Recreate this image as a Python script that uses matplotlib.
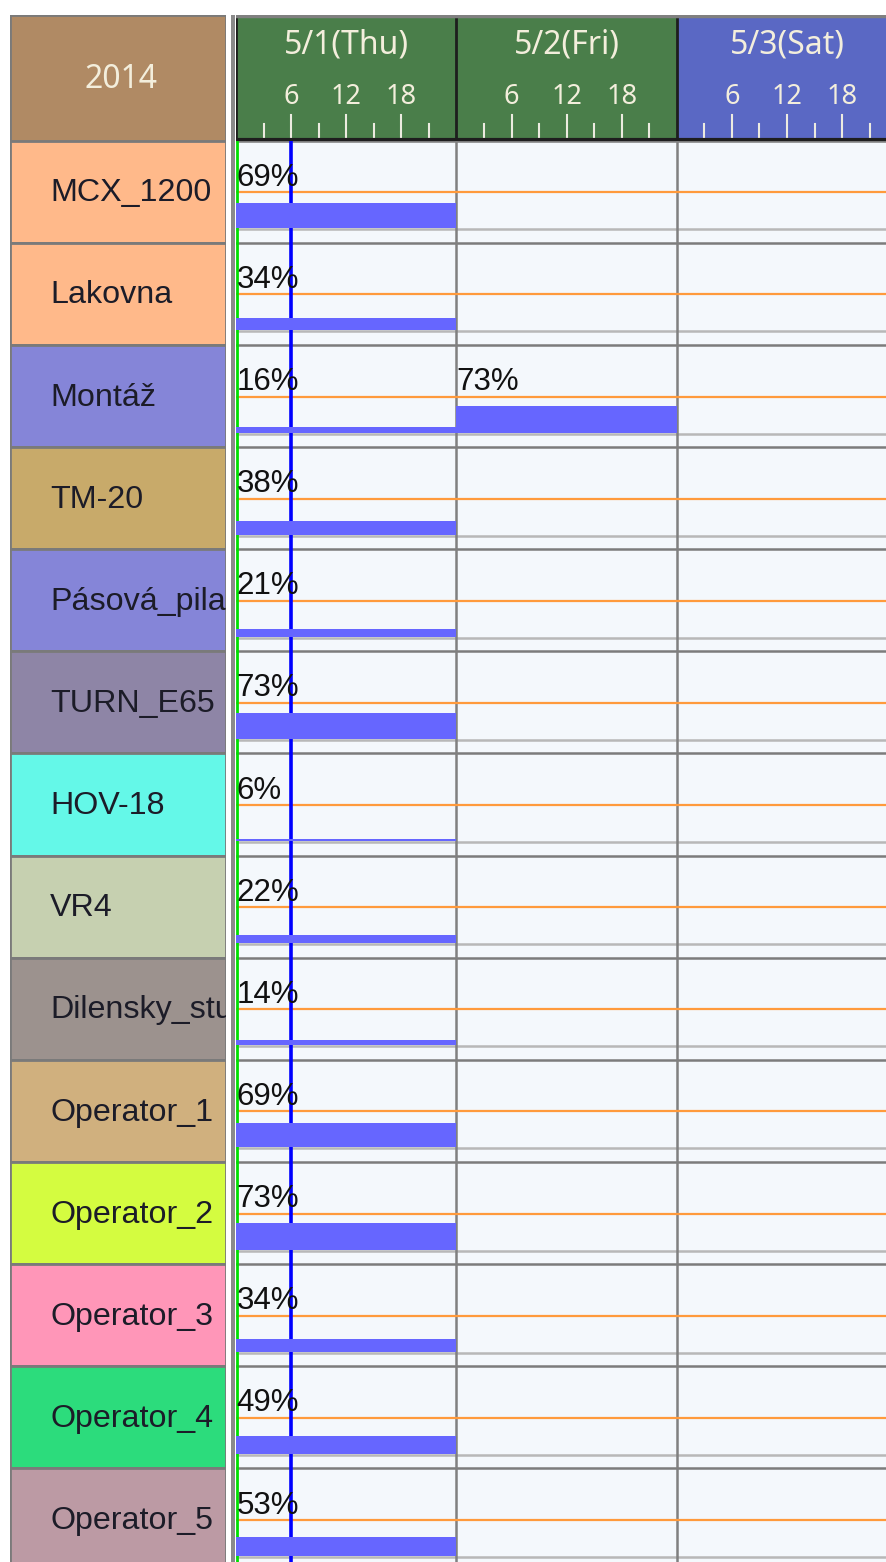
import matplotlib
matplotlib.use('Agg')
import matplotlib.pyplot as plt
from matplotlib.patches import Rectangle

# resources shown in the schedule, top to bottom
resources = ["MCX_1200", "Lakovna", "Montáž", "TM-20", "Pásová_pila", "TURN_E65",
             "HOV-18", "VR4", "Dilensky_stul", "Operator_1", "Operator_2",
             "Operator_3", "Operator_4", "Operator_5"]
resource_colors = ["#ffb98a", "#ffb98a", "#8585d8", "#c8aa6a", "#8585d8", "#8e85a6",
                   "#64f8e8", "#c6d0b0", "#9c928e", "#d0b07e", "#d4fc40",
                   "#ff96b8", "#2cdc7c", "#bc9aa4"]

# daily utilisation in percent (None = nothing planned)
util_thu = [69, 34, 16, 38, 21, 73, 6, 22, 14, 69, 73, 34, 49, 53]
util_fri = [None, None, 73, None, None, None, None, None, None, None, None, None, None, None]
util_sat = [None] * len(resources)

year = "2014"
day_labels = ["5/1(Thu)", "5/2(Fri)", "5/3(Sat)"]
day_colors = ["#4a7e4a", "#4a7e4a", "#5a68c4"]
hour_ticks = [6, 12, 18]
now_hour = 6

W, H = 886, 1562
ROW_PX = 102.13
DAY_PX = 220.4
BODY_TOP = 140.6
HEAD_TOP = 15
LEFT0, LEFT1 = 10, 225.5
CHART_X0 = 236

fig = plt.figure(figsize=(W / 100, H / 100), dpi=100)
fig.patch.set_facecolor('white')


def px_axes(x0, y0, x1, y1):
    ax = fig.add_axes([x0 / W, 1 - y1 / H, (x1 - x0) / W, (y1 - y0) / H])
    ax.set_axis_off()
    return ax


hours_visible = (W - CHART_X0) / DAY_PX * 24
rows_visible = (H - BODY_TOP) / ROW_PX

# splitter between the name column and the chart
fig.add_artist(Rectangle((231 / W, 0), 3.5 / W, 1 - HEAD_TOP / H,
                         transform=fig.transFigure, color="#8a8a8a", lw=0))

# corner cell with the year
ax_corner = px_axes(LEFT0, HEAD_TOP, LEFT1, BODY_TOP)
ax_corner.set_xlim(0, LEFT1 - LEFT0)
ax_corner.set_ylim(BODY_TOP - HEAD_TOP, 0)
ax_corner.add_patch(Rectangle((0, 0), LEFT1 - LEFT0, BODY_TOP - HEAD_TOP,
                              facecolor="#b08a64", edgecolor="#7a7a7a", lw=2))
ax_corner.text((LEFT1 - LEFT0) / 2 + 3, 64, year, ha='center', va='center',
               fontsize=23, family="Noto Sans", color="#f3eedc")

# resource name column
ax_names = px_axes(LEFT0, BODY_TOP, LEFT1, H)
ax_names.set_xlim(0, LEFT1 - LEFT0)
ax_names.set_ylim(rows_visible, 0)
for k, (name, col) in enumerate(zip(resources, resource_colors)):
    ax_names.add_patch(Rectangle((0, k), LEFT1 - LEFT0, 1, facecolor=col,
                                 edgecolor="#7a7a7a", lw=2))
    ax_names.text(40, k + 0.595, name, ha='left', va='baseline', fontsize=23.2,
                  family="Liberation Sans", color="#1c1c28", clip_on=True)

# day header
head_h = BODY_TOP - HEAD_TOP
ax_head = px_axes(CHART_X0, HEAD_TOP, W, BODY_TOP)
ax_head.set_xlim(0, hours_visible)
ax_head.set_ylim(head_h, 0)
for d, (lab, col) in enumerate(zip(day_labels, day_colors)):
    x0 = d * 24
    ax_head.add_patch(Rectangle((x0, 0), 24, head_h, facecolor=col, lw=0))
    ax_head.text(x0 + 12, 30, lab, ha='center', va='center', fontsize=23,
                 family="Noto Sans", color="#f3eedc")
    for h in range(3, 24, 3):
        top = 100 if h in hour_ticks else 109
        ax_head.plot([x0 + h, x0 + h], [top, head_h - 1], color="#ecebe0", lw=1.5)
    for h in hour_ticks:
        ax_head.text(x0 + h, 82, str(h), ha='center', va='center', fontsize=19.5,
                     family="Noto Sans", color="#f3eedc")
    ax_head.axvline(x0, color="#1e1e1e", lw=2)
ax_head.axhline(1, color="#808080", lw=2.5)
ax_head.axhline(head_h - 1, color="#1e1e1e", lw=3)

# utilisation body
ax = px_axes(CHART_X0, BODY_TOP, W, H)
ax.set_xlim(0, hours_visible)
ax.set_ylim(rows_visible, 0)
ax.add_patch(Rectangle((0, 0), hours_visible, rows_visible, facecolor="#f4f8fc", lw=0, zorder=0))

base_off = 87.7 / ROW_PX
full_h = 36 / ROW_PX
for k in range(len(resources) + 1):
    ax.axhline(k, color="#7c7c7c", lw=1.8, zorder=1)
for k in range(len(resources)):
    ax.axhline(k + base_off + 0.01, color="#b8b8b8", lw=1.8, zorder=1)
    ax.axhline(k + base_off - full_h, color="#ff9a3c", lw=1.6, zorder=2)
for d in range(1, 3):
    ax.axvline(d * 24, color="#808080", lw=1.8, zorder=1)

ax.axvline(now_hour, color="#0000ff", lw=2.6, zorder=3)
ax.axvline(0.08, color="#00e000", lw=2, zorder=3)

for d, series in enumerate([util_thu, util_fri, util_sat]):
    for k, pct in enumerate(series):
        if pct is None:
            continue
        h = pct / 100 * full_h
        ax.bar(d * 24, h, width=24, bottom=k + base_off - h, align='edge',
               color="#6666ff", lw=0, zorder=4)
        ax.text(d * 24 + 0.05, k + 0.443, f"{pct}%", ha='left', va='baseline',
                fontsize=22.5, family="Liberation Sans", color="#111111", zorder=5)

fig.savefig("out.png", dpi=100)
plt.close(fig)
